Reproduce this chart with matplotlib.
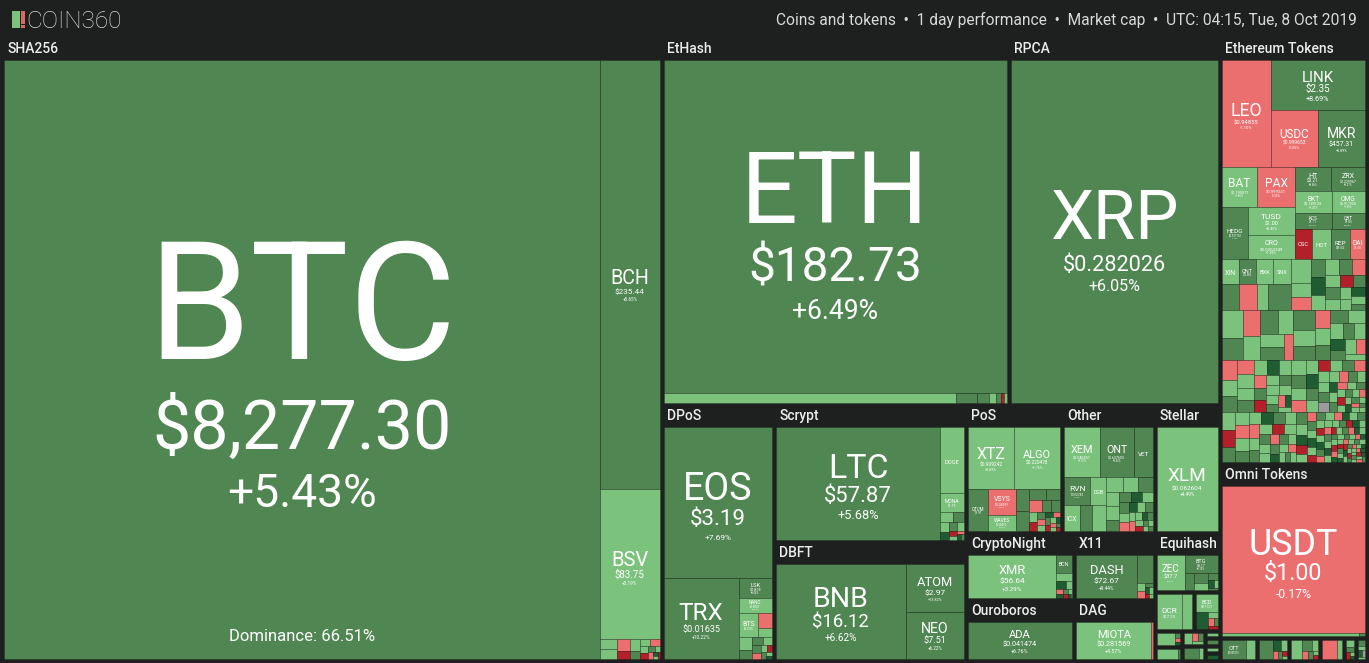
import matplotlib
matplotlib.use("Agg")
import matplotlib.pyplot as plt
from functools import lru_cache
from matplotlib.patches import Rectangle
from matplotlib.textpath import TextPath
from matplotlib.font_manager import FontProperties

DPI = 100
FONT = ["Roboto", "DejaVu Sans"]
TEXT_FP = FontProperties(family=FONT)
CAP = 0.711  # Roboto cap height, in em
BG = "#1e1f1f"
EDGE = (0, 0, 0, 0.22)
PALETTE = {"L": "#7bc27c", "M": "#508651", "D": "#1f5c31",
           "r": "#ec6f70", "R": "#b2212a", "G": "#9b9b9b"}
LABEL_SCALE = {"BTC": 0.92}

# ---------------------------------------------------------------------------
# data: tile size (relative area), price, 1 day change %
# unnamed small coins: size + performance class (L/M/D green, r/R red, G n/a)
# ---------------------------------------------------------------------------
btc_dominance = 66.51

sha_coins = ["BTC", "BCH", "BSV"]
sha_prices = ["$8,277.30", "$235.44", "$83.75"]
sha_change = [5.43, 5.65, 3.19]
sha_size = [3735.6, 266.6, 93.4]
sha_rest_size = [1.7, 1.7, 1.6, 1.2, 1.2, 0.8, 0.7, 0.7, 0.6, 0.5, 0.4, 0.3, 0.3, 0.2, 0.2, 0.1]
sha_rest_perf = "LLrRLMLrLRMLrDLR"

eth_coins = ["ETH", "ETC"]
eth_prices = ["$182.73", "$4.93"]
eth_change = [6.49, 3.02]
eth_size = [1238.1, 31.7]
eth_rest_size = [2.26, 1.29, 0.75, 0.54, 0.33, 0.33]
eth_rest_perf = "MMLMRL"

rpca_coins = ["XRP"]
rpca_prices = ["$0.282026"]
rpca_change = [6.05]
rpca_size = [774.4]

dpos_coins = ["EOS", "TRX", "LSK", "NANO", "BTS"]
dpos_prices = ["$3.19", "$0.01635", "$0.878", "$0.8921", "$0.0376"]
dpos_change = [7.69, 10.22, 6.04, 3.52, 4.13]
dpos_size = [187.4, 69.2, 7.37, 5.82, 5.47]
dpos_pair_size = [2.4, 1.4]
dpos_pair_perf = "rL"
dpos_rest_size = [2.0, 1.5, 1.0, 0.9, 0.7, 0.6, 0.5, 0.4, 0.4, 0.3, 0.2]
dpos_rest_perf = "LMMLMrLRMLD"

scrypt_coins = ["LTC", "DOGE", "MONA"]
scrypt_prices = ["$57.87", "$0.002687", "$1.19"]
scrypt_change = [5.68, 3.61, 2.94]
scrypt_size = [229.5, 19.2, 5.53]
scrypt_rest_size = [1.6, 1.3, 1.1, 0.9, 0.8, 0.7, 0.5, 0.4, 0.3, 0.3, 0.2]
scrypt_rest_perf = "LMLDMLRLrDM"

dbft_coins = ["BNB", "ATOM", "NEO"]
dbft_prices = ["$16.12", "$2.97", "$7.51"]
dbft_change = [6.62, 13.82, 6.22]
dbft_size = [157.2, 35.7, 35.0]

pos_coins = ["XTZ", "ALGO", "QTUM", "VSYS", "WAVES"]
pos_prices = ["$0.909242", "$0.220478", "$1.97", "$0.04391", "$0.8412"]
pos_change = [2.69, 1.75, 5.52, -2.13, 2.41]
pos_size = [36.6, 35.8, 11.1, 9.3, 5.7]
pos_rest_size = [3.9, 3.5, 2.4, 2.1, 1.9, 1.4, 1.3, 1.0, 0.9, 0.8, 0.7,
                 0.6, 0.6, 0.5, 0.5, 0.4, 0.4, 0.3, 0.3, 0.3, 0.2, 0.2]
pos_rest_perf = "MMMMrMMLRMrLDrMRLDrLMR"

other_coins = ["XEM", "ONT", "VET", "RVN", "DGB", "ICX"]
other_prices = ["$0.046857", "$0.637603", "$0.003841", "$0.02782", "$0.006551", "$0.1545"]
other_change = [1.97, 5.00, 6.91, 5.74, 2.63, 3.42]
other_size = [23.1, 21.8, 12.2, 9.35, 5.75, 5.4]
other_mid_size = [3.9, 4.8]
other_mid_perf = "ML"
other_rest_size = [3.2, 2.9, 2.7, 2.3, 2.3, 1.8, 1.6, 1.4, 1.4, 1.3, 1.2, 1.1, 1.0,
                   0.9, 0.9, 0.8, 0.8, 0.7, 0.6, 0.6, 0.5, 0.5, 0.4, 0.4, 0.3, 0.3]
other_rest_perf = "LLMLLMMDLMLrDLMLrLDMLRMLLM"

stellar_coins = ["XLM"]
stellar_prices = ["$0.062604"]
stellar_change = [4.49]
stellar_size = [83.2]

cn_coins = ["XMR", "BCN"]
cn_prices = ["$56.64", "$0.000431"]
cn_change = [3.29, 5.93]
cn_size = [61.2, 4.7]
cn_rest_size = [2.1, 1.2, 0.7, 0.6, 0.5, 0.4, 0.3, 0.3, 0.2, 0.1]
cn_rest_perf = "LDLrDMLRDL"

x11_coins = ["DASH"]
x11_prices = ["$72.67"]
x11_change = [9.44]
x11_size = [43.0]
x11_rest_size = [6.9, 1.0, 0.8, 0.6, 0.5, 0.4, 0.3, 0.2]
x11_rest_perf = "MLrMDLRL"

ouro_coins = ["ADA"]
ouro_prices = ["$0.041474"]
ouro_change = [6.76]
ouro_size = [66.2]

dag_coins = ["MIOTA"]
dag_prices = ["$0.281569"]
dag_change = [4.57]
dag_size = [48.4]
dag_rest_size = [0.8]
dag_rest_perf = "r"

equi_coins = ["ZEC", "BTG"]
equi_prices = ["$37.7", "$8.17"]
equi_change = [3.41, 6.10]
equi_size = [17.6, 10.7]
equi_rest_size = [3.0, 2.2, 1.8, 1.2, 0.9, 0.6, 0.4]
equi_rest_perf = "MMLMDLM"

misc_coins = ["DCR", "BCD"]
misc_prices = ["$17.23", "$0.7121"]
misc_change = [2.24, 3.71]
misc_size = [10.9, 5.2]
dcr_rest_size = [4.3]
dcr_rest_perf = "L"
bcd_side_size = [2.7]
bcd_side_perf = "D"
bcd_rest_size = [0.8, 0.6, 0.4, 0.4]
bcd_rest_perf = "LrMR"

tiny_a_size, tiny_a_perf = [3.4, 0.4, 0.3, 0.2], "LMrD"
tiny_b_size, tiny_b_perf = [3.5, 0.3], "LM"
tiny_c_size, tiny_c_perf = [1.6, 0.8, 0.6, 0.5], "LrML"
tiny_d_size, tiny_d_perf = [2.8, 0.6], "ML"
tiny_e_size, tiny_e_perf = [1.1], "L"
tiny_f_size, tiny_f_perf = [1.1], "M"
tiny_g_size, tiny_g_perf = [1.1], "L"
tiny_h_size, tiny_h_perf = [1.2], "D"

erc_coins = ["LEO", "LINK", "USDC", "MKR", "BAT", "PAX", "HEDG", "TUSD", "CRO",
             "HT", "ZRX", "BKT", "OMG", "KCS", "QBT", "OSC", "HOT", "REP", "DAI",
             "XIN", "QNT", "BXK", "SNX"]
erc_prices = ["$0.94855", "$2.35", "$0.999653", "$457.31", "$0.190071", "$0.999231",
              "$0.937152", "$1.00", "$0.0352349", "$3.21", "$0.229967", "$0.189123",
              "$0.917934", "$1.11", "$1.05", "$0.1102", "$0.000241", "$9.52", "$1.00",
              "$186.15", "$5.85", "$0.0461", "$0.9712"]
erc_change = [-1.10, 8.69, -0.05, 5.89, 1.86, -0.25, 6.10, 0.45, 1.89,
              5.56, 5.27, 1.47, 1.69, 5.21, 5.90, -7.52, 2.14, 6.31, -0.62,
              3.20, 5.48, 2.05, 3.12]
erc_size = [57.1, 51.2, 29.2, 29.2, 15.5, 16.3, 14.9, 14.3, 12.2,
            9.5, 8.8, 8.8, 8.0, 6.4, 5.8, 5.6, 6.3, 6.0, 5.0,
            4.8, 4.8, 4.7, 4.8]
erc_row_size = [5.0, 5.0, 3.3, 6.5]
erc_row_perf = "MrLM"
erc_c1_size = [5.4, 3.2, 2.9, 2.8, 2.6, 2.4, 2.4, 2.3, 2.2, 2.0, 2.0, 1.9, 1.8,
               1.6, 1.5, 1.4, 1.3, 1.2, 1.0]
erc_c1_perf = "LLrMDLLMrLMLRMLLDLM"
erc_c2l_size = [6.3, 5.1, 4.9, 4.8, 4.6, 3.8, 3.4, 3.3, 2.8]
erc_c2l_perf = "LMrLMLLMr"
erc_c2r_size = [4.5, 3.8, 3.4, 3.0, 2.8, 2.6, 2.5, 2.3, 2.2, 2.0, 1.9, 1.8,
                1.7, 1.6, 1.5, 1.4]
erc_c2r_perf = "MLMrLMMLLMLDMLrL"
erc_c3l_size = [3.2, 2.8, 2.6, 2.5, 2.4, 2.2, 2.1, 2.0, 1.9, 1.8, 1.8, 1.7,
                1.6, 1.5, 1.4, 1.3, 1.2, 1.1, 1.0, 0.9, 0.8, 0.7]
erc_c3l_perf = "rLMrLLMLDLrMRLMLLLMrDL"
erc_c3r_size = [2.4, 2.2, 2.0, 1.9, 1.8, 1.7, 1.6, 1.5, 1.5, 1.4, 1.4, 1.3, 1.3,
                1.2, 1.2, 1.1, 1.1, 1.0, 1.0, 0.9, 0.9, 0.9, 0.8, 0.8, 0.8, 0.7,
                0.7, 0.7, 0.6, 0.6, 0.6, 0.5, 0.5, 0.5, 0.5, 0.4, 0.4, 0.4, 0.3, 0.3]
erc_c3r_perf = "LMLrLDMLRLMrLLMGLrMLDLMrLMLRLMLrLDMLrLML"
erc_c4l_size = [2.6, 2.4, 2.2, 2.1, 2.0, 1.9, 1.8, 1.7, 1.6, 1.6, 1.5, 1.5, 1.4,
                1.4, 1.3, 1.3, 1.2, 1.2, 1.1, 1.1, 1.0, 1.0, 0.9, 0.9, 0.8, 0.8,
                0.7, 0.7, 0.6, 0.6]
erc_c4l_perf = "LRMLrLMLDMLrLMLRLMLLrMLMDLrLML"
erc_c4r_size = [1.4, 1.3, 1.2, 1.1, 1.0, 1.0, 0.9, 0.9, 0.9, 0.8,
                0.8, 0.8, 0.8, 0.7, 0.7, 0.7, 0.7, 0.7, 0.6, 0.6,
                0.6, 0.6, 0.6, 0.6, 0.6, 0.5, 0.5, 0.5, 0.5, 0.5,
                0.5, 0.5, 0.5, 0.5, 0.4, 0.4, 0.4, 0.4, 0.4, 0.4,
                0.4, 0.4, 0.4, 0.4, 0.4, 0.4, 0.3, 0.3, 0.3, 0.3,
                0.3, 0.3, 0.3, 0.3, 0.3, 0.3, 0.3, 0.3, 0.3, 0.3,
                0.3, 0.3, 0.2, 0.2, 0.2, 0.2, 0.2, 0.2, 0.2, 0.2,
                0.2, 0.2, 0.2, 0.2, 0.2, 0.2, 0.2, 0.2, 0.2, 0.2]
erc_c4r_perf = ("MLDRLrMLDLRMLrDLMLRLDMrLLMRDLrMLDLRLMrDL"
                "MLRrDLMLrDLRMLDrLMLRDLMrLDLRMLrDLMLRDLrM")

omni_coins = ["USDT", "OTT"]
omni_prices = ["$1.00", "$0.005315"]
omni_change = [-0.17, 5.80]
omni_size = [250.7, 6.2]
omni_strip_size, omni_strip_perf = [4.9, 0.2], "LM"
og1_size, og1_perf = [2.4], "L"
og2_size, og2_perf = [3.5, 1.2, 0.9, 0.6, 0.5, 0.3, 0.2], "MDLrMRL"
og3_size, og3_perf = [3.0, 1.5, 1.0, 0.6, 0.5, 0.3, 0.3], "LMLrMLR"
og4_size, og4_perf = [4.0, 1.5], "rL"
og5_size, og5_perf = [1.0, 0.6, 0.5, 0.3, 0.2], "LMRLD"
og6_size, og6_perf = [0.8, 0.6, 0.5, 0.4, 0.3], "MLDGL"


# ---------------------------------------------------------------------------
def coins(names, prices, changes, sizes):
    return {n: {"size": s, "perf": c, "name": n, "price": p}
            for n, p, c, s in zip(names, prices, changes, sizes)}


def cells(sizes, perf):
    return [{"size": s, "perf": c, "name": None, "price": None}
            for s, c in zip(sizes, perf)]


def H(*kids):
    return ("h", list(kids))


def V(*kids):
    return ("v", list(kids))


def SQ(leaves):
    return ("sq", list(leaves))


def G(label, child):
    return ("g", label, child)


def shade(perf):
    if isinstance(perf, str):
        return PALETTE[perf]
    if perf <= -5:
        return PALETTE["R"]
    if perf < 0:
        return PALETTE["r"]
    if perf < 5:
        return PALETTE["L"]
    if perf < 15:
        return PALETTE["M"]
    return PALETTE["D"]


@lru_cache(maxsize=None)
def ink(s):
    return TextPath((0, 0), s, size=1, prop=TEXT_FP).get_extents().width


def size_of(node):
    if isinstance(node, dict):
        return node["size"]
    if node[0] == "g":
        return size_of(node[2])
    return sum(size_of(k) for k in node[1])


def worst(row, side):
    s = sum(row)
    return max(max(side * side * a / (s * s), s * s / (side * side * a)) for a in row)


def squarify(values, x, y, w, h):
    total = sum(values)
    areas = [v * w * h / total for v in values]
    rects, i = [], 0
    while i < len(areas):
        side = min(w, h)
        row = [areas[i]]
        i += 1
        while i < len(areas) and worst(row + [areas[i]], side) <= worst(row, side):
            row.append(areas[i])
            i += 1
        s = sum(row)
        if w >= h:
            cw = s / h
            yy = y
            for a in row:
                rects.append((x, yy, cw, a / cw))
                yy += a / cw
            x += cw
            w -= cw
        else:
            rh = s / w
            xx = x
            for a in row:
                rects.append((xx, y, a / rh, rh))
                xx += a / rh
            y += rh
            h -= rh
    return rects


def label_tile(ax, t, x, y, w, h):
    name, price = t["name"], t["price"]
    k = LABEL_SCALE.get(name, 1.0)
    s = min(0.6 * w / ink(name), 0.3 * h) * k
    if s < 4:
        return
    lines, gaps = [(name, s)], []
    if price:
        p = min(0.49 * w / ink(price), 0.65 * s)
        chg = f"{t['perf']:+.2f}%"
        c = min(0.245 * w / ink(chg), 0.75 * p)
        if p >= 2.5:
            lines.append((price, p))
            gaps.append(0.25 * s)
            if c >= 2:
                lines.append((chg, c))
                gaps.append(0.38 * p)
    total = sum(CAP * e for _, e in lines) + sum(gaps)
    fit = min(1.0, 0.85 * h / total)
    base = y + h / 2 + 0.025 * h - total * fit / 2
    for i, (txt, e) in enumerate(lines):
        if i:
            base += gaps[i - 1] * fit
        base += CAP * e * fit
        ax.text(x + w / 2, base, txt, ha="center", va="baseline", color="white",
                fontsize=e * fit * 72 / DPI, fontfamily=FONT)
    if name == "BTC":
        ax.text(x + w / 2, y + h - 18, f"Dominance: {btc_dominance:.2f}%",
                ha="center", va="baseline", color="white", fontsize=12, fontfamily=FONT)


def draw(ax, node, x, y, w, h):
    if isinstance(node, dict):
        ax.add_patch(Rectangle((x, y), w, h, facecolor=shade(node["perf"]),
                               edgecolor=EDGE, linewidth=0.6))
        if node["name"]:
            label_tile(ax, node, x, y, w, h)
        return
    kind = node[0]
    if kind == "g":
        label, child = node[1], node[2]
        x, y, w, h = x + 2, y + 2, w - 4, h - 4
        if label:
            ax.text(x + 3, y + 13, label, ha="left", va="baseline", color="#ececec",
                    fontsize=10, fontweight="medium", fontfamily=FONT)
            y, h = y + 20, h - 20
        draw(ax, child, x, y, w, h)
    elif kind in ("h", "v"):
        total = sum(size_of(k) for k in node[1])
        pos = x if kind == "h" else y
        for k in node[1]:
            frac = size_of(k) / total
            if kind == "h":
                draw(ax, k, pos, y, w * frac, h)
                pos += w * frac
            else:
                draw(ax, k, x, pos, w, h * frac)
                pos += h * frac
    elif kind == "sq":
        leaves = sorted(node[1], key=lambda t: -t["size"])
        for t, r in zip(leaves, squarify([t["size"] for t in leaves], x, y, w, h)):
            draw(ax, t, *r)


# ---------------------------------------------------------------------------
T = {}
for args in [(sha_coins, sha_prices, sha_change, sha_size),
             (eth_coins, eth_prices, eth_change, eth_size),
             (rpca_coins, rpca_prices, rpca_change, rpca_size),
             (dpos_coins, dpos_prices, dpos_change, dpos_size),
             (scrypt_coins, scrypt_prices, scrypt_change, scrypt_size),
             (dbft_coins, dbft_prices, dbft_change, dbft_size),
             (pos_coins, pos_prices, pos_change, pos_size),
             (other_coins, other_prices, other_change, other_size),
             (stellar_coins, stellar_prices, stellar_change, stellar_size),
             (cn_coins, cn_prices, cn_change, cn_size),
             (x11_coins, x11_prices, x11_change, x11_size),
             (ouro_coins, ouro_prices, ouro_change, ouro_size),
             (dag_coins, dag_prices, dag_change, dag_size),
             (equi_coins, equi_prices, equi_change, equi_size),
             (misc_coins, misc_prices, misc_change, misc_size),
             (erc_coins, erc_prices, erc_change, erc_size),
             (omni_coins, omni_prices, omni_change, omni_size)]:
    T.update(coins(*args))

sha = G("SHA256", H(T["BTC"], V(T["BCH"], T["BSV"], SQ(cells(sha_rest_size, sha_rest_perf)))))
ethash = G("EtHash", V(T["ETH"], H(T["ETC"], *cells(eth_rest_size, eth_rest_perf))))
rpca = G("RPCA", T["XRP"])
dpos = G("DPoS", V(T["EOS"], H(T["TRX"], V(
    T["LSK"], T["NANO"],
    H(T["BTS"], V(*cells(dpos_pair_size, dpos_pair_perf))),
    SQ(cells(dpos_rest_size, dpos_rest_perf))))))
scrypt = G("Scrypt", H(T["LTC"], V(T["DOGE"], T["MONA"],
                                   SQ(cells(scrypt_rest_size, scrypt_rest_perf)))))
dbft = G("DBFT", H(T["BNB"], V(T["ATOM"], T["NEO"])))
pos = G("PoS", V(H(T["XTZ"], T["ALGO"]),
                 H(T["QTUM"], V(T["VSYS"], T["WAVES"]),
                   SQ(cells(pos_rest_size, pos_rest_perf)))))
other = G("Other", V(H(T["XEM"], T["ONT"], T["VET"]),
                     H(V(H(T["RVN"], T["DGB"]),
                         H(T["ICX"], *cells(other_mid_size, other_mid_perf))),
                       SQ(cells(other_rest_size, other_rest_perf)))))
stellar = G("Stellar", T["XLM"])
cryptonight = G("CryptoNight", H(T["XMR"], SQ([T["BCN"]] + cells(cn_rest_size, cn_rest_perf))))
x11 = G("X11", H(T["DASH"], SQ(cells(x11_rest_size, x11_rest_perf))))
ouro = G("Ouroboros", T["ADA"])
dag = G("DAG", H(T["MIOTA"], *cells(dag_rest_size, dag_rest_perf)))
equihash = G("Equihash", H(T["ZEC"], V(T["BTG"], SQ(cells(equi_rest_size, equi_rest_perf)))))
dcr_grp = G(None, H(T["DCR"], *cells(dcr_rest_size, dcr_rest_perf)))
bcd_grp = G(None, V(T["BCD"], H(*cells(bcd_side_size, bcd_side_perf),
                                SQ(cells(bcd_rest_size, bcd_rest_perf)))))
tiny_row = H(V(G(None, SQ(cells(tiny_a_size, tiny_a_perf))),
               G(None, SQ(cells(tiny_b_size, tiny_b_perf)))),
             V(G(None, SQ(cells(tiny_c_size, tiny_c_perf))),
               G(None, SQ(cells(tiny_d_size, tiny_d_perf)))),
             V(G(None, SQ(cells(tiny_e_size, tiny_e_perf))),
               G(None, SQ(cells(tiny_f_size, tiny_f_perf))),
               G(None, SQ(cells(tiny_g_size, tiny_g_perf))),
               G(None, SQ(cells(tiny_h_size, tiny_h_perf)))))

erc = G("Ethereum Tokens", V(
    H(T["LEO"], V(T["LINK"], H(T["USDC"], T["MKR"]))),
    H(V(H(T["BAT"], T["PAX"]), H(T["HEDG"], V(T["TUSD"], T["CRO"]))),
      V(H(T["HT"], T["ZRX"]), H(T["BKT"], T["OMG"]), H(T["KCS"], T["QBT"]),
        H(T["OSC"], T["HOT"], T["REP"], T["DAI"]))),
    H(V(H(T["XIN"], T["QNT"], T["BXK"], T["SNX"]), H(*cells(erc_row_size, erc_row_perf))),
      SQ(cells(erc_c1_size, erc_c1_perf))),
    H(SQ(cells(erc_c2l_size, erc_c2l_perf)), SQ(cells(erc_c2r_size, erc_c2r_perf))),
    H(SQ(cells(erc_c3l_size, erc_c3l_perf)), SQ(cells(erc_c3r_size, erc_c3r_perf))),
    H(SQ(cells(erc_c4l_size, erc_c4l_perf)), SQ(cells(erc_c4r_size, erc_c4r_perf)))))
omni = G("Omni Tokens", V(T["USDT"], H(*cells(omni_strip_size, omni_strip_perf))))
omni_small = H(G(None, H(T["OTT"], *cells(og1_size, og1_perf))),
               G(None, SQ(cells(og2_size, og2_perf))),
               G(None, SQ(cells(og3_size, og3_perf))),
               G(None, SQ(cells(og4_size, og4_perf))),
               G(None, SQ(cells(og5_size, og5_perf))),
               G(None, SQ(cells(og6_size, og6_perf))))

middle = V(H(ethash, rpca),
           H(dpos, V(scrypt, dbft),
             V(H(pos, other), H(cryptonight, x11), H(ouro, dag)),
             V(stellar, equihash, H(dcr_grp, bcd_grp), tiny_row)))
right = V(erc, omni, omni_small)
market = H(sha, middle, right)

# ---------------------------------------------------------------------------
fig = plt.figure(figsize=(13.69, 6.63), dpi=DPI, facecolor=BG)
ax = fig.add_axes([0, 0, 1, 1])
ax.set_xlim(0, 1369)
ax.set_ylim(663, 0)
ax.axis("off")
ax.set_facecolor(BG)

draw(ax, market, 2, 38, 1365, 623)

# header bar
ax.add_patch(Rectangle((12, 11), 8, 17, facecolor=PALETTE["L"], edgecolor="none"))
ax.add_patch(Rectangle((21, 11), 3.5, 12.5, facecolor="#e06666", edgecolor="none"))
ax.add_patch(Rectangle((21, 25), 3.5, 3, facecolor="#e06666", edgecolor="none"))
ax.text(26, 28, "COIN360", ha="left", va="baseline", color="#d6d6d6",
        fontsize=17.5, fontweight="light", fontfamily=FONT)
ax.text(1357, 24.5, "Coins and tokens  \u2022  1 day performance  \u2022  Market cap  \u2022  "
        "UTC: 04:15, Tue, 8 Oct 2019", ha="right", va="baseline", color="#d9d9d9",
        fontsize=11.2, fontfamily=FONT)

fig.savefig("out.png", dpi=DPI, facecolor=BG)
